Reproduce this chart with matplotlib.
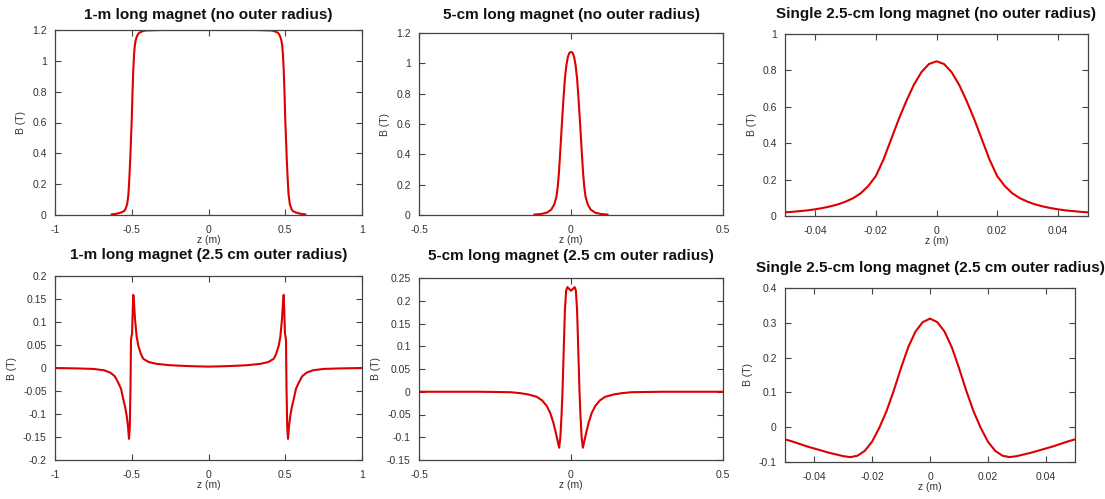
import numpy as np
import matplotlib
matplotlib.use('Agg')
import matplotlib.pyplot as plt
from matplotlib.ticker import FuncFormatter

plt.rcParams['font.family'] = ['Liberation Sans', 'DejaVu Sans']
plt.rcParams['axes.unicode_minus'] = False

# 1-m long magnet, no outer radius
z1 = [-0.63, -0.6, -0.57, -0.55, -0.54, -0.53, -0.522, -0.516, -0.51, -0.505, -0.5, -0.495,
      -0.49, -0.485, -0.48, -0.475, -0.468, -0.46, -0.45, -0.435, -0.41, -0.3, 0.0,
      0.3, 0.41, 0.435, 0.45, 0.46, 0.468, 0.475, 0.48, 0.485, 0.49,
      0.495, 0.5, 0.505, 0.51, 0.516, 0.522, 0.53, 0.54, 0.55, 0.57, 0.6, 0.63]
B1 = [0.004, 0.008, 0.016, 0.025, 0.04, 0.07, 0.13, 0.23, 0.36, 0.49, 0.62, 0.8,
      0.94, 1.04, 1.1, 1.13, 1.155, 1.172, 1.183, 1.19, 1.197, 1.2, 1.2,
      1.2, 1.197, 1.19, 1.183, 1.172, 1.155, 1.13, 1.1, 1.04, 0.94,
      0.8, 0.62, 0.49, 0.36, 0.23, 0.13, 0.07, 0.04, 0.025, 0.016, 0.008, 0.004]

# 5-cm long magnet, no outer radius
z2 = [-0.12, -0.1, -0.08, -0.065, -0.055, -0.048, -0.044, -0.04, -0.035, -0.03, -0.025,
      -0.02, -0.015, -0.01, -0.005, 0.0,
      0.005, 0.01, 0.015, 0.02, 0.025, 0.03, 0.035, 0.04, 0.044, 0.048, 0.055,
      0.065, 0.08, 0.1, 0.12]
B2 = [0.003, 0.006, 0.015, 0.035, 0.07, 0.12, 0.18, 0.27, 0.43, 0.6, 0.76,
      0.9, 0.99, 1.045, 1.07, 1.075,
      1.07, 1.045, 0.99, 0.9, 0.76, 0.6, 0.43, 0.27, 0.18, 0.12, 0.07,
      0.035, 0.015, 0.006, 0.003]

# single 2.5-cm long magnet, no outer radius
z3 = [-0.05, -0.0475, -0.045, -0.0425, -0.04, -0.0375, -0.035, -0.0325, -0.03, -0.0275,
      -0.025, -0.0225, -0.02, -0.0175, -0.015, -0.0125, -0.01, -0.0075, -0.005, -0.0025, 0.0,
      0.0025, 0.005, 0.0075, 0.01, 0.0125, 0.015, 0.0175, 0.02, 0.0225, 0.025,
      0.0275, 0.03, 0.0325, 0.035, 0.0375, 0.04, 0.0425, 0.045, 0.0475, 0.05]
B3 = [0.02, 0.023, 0.027, 0.031, 0.037, 0.044, 0.053, 0.064, 0.079, 0.098,
      0.125, 0.165, 0.22, 0.31, 0.42, 0.53, 0.63, 0.72, 0.79, 0.835, 0.85,
      0.835, 0.79, 0.72, 0.63, 0.53, 0.42, 0.31, 0.22, 0.165, 0.125,
      0.098, 0.079, 0.064, 0.053, 0.044, 0.037, 0.031, 0.027, 0.023, 0.02]

# 1-m long magnet, 2.5 cm outer radius
z4 = [-1.0, -0.85, -0.75, -0.68, -0.64, -0.61, -0.588, -0.57, -0.555, -0.543, -0.533,
      -0.525, -0.518, -0.513, -0.508, -0.505, -0.502, -0.498, -0.494, -0.49, -0.486,
      -0.479, -0.468, -0.457, -0.44, -0.425, -0.39, -0.337, -0.25, -0.12, 0.0,
      0.12, 0.25, 0.337, 0.39, 0.425, 0.44, 0.457, 0.468, 0.479, 0.486, 0.49,
      0.494, 0.498, 0.502, 0.505, 0.508, 0.513, 0.518, 0.525, 0.533, 0.543,
      0.555, 0.57, 0.588, 0.61, 0.64, 0.68, 0.75, 0.85, 1.0]
B4 = [0.0, -0.001, -0.002, -0.005, -0.01, -0.018, -0.032, -0.045, -0.068, -0.085, -0.104,
      -0.125, -0.154, -0.13, -0.04, 0.06, 0.068, 0.075, 0.12, 0.159, 0.145,
      0.107, 0.068, 0.048, 0.03, 0.02, 0.013, 0.009, 0.006, 0.004, 0.003,
      0.004, 0.006, 0.009, 0.013, 0.02, 0.03, 0.048, 0.068, 0.107, 0.145, 0.159,
      0.12, 0.075, 0.068, 0.06, -0.04, -0.13, -0.154, -0.125, -0.104, -0.085,
      -0.068, -0.045, -0.032, -0.018, -0.01, -0.005, -0.002, -0.001, 0.0]

# 5-cm long magnet, 2.5 cm outer radius
z5 = [-0.5, -0.3, -0.2, -0.168, -0.14, -0.113, -0.095, -0.08, -0.068, -0.058, -0.05,
      -0.044, -0.039, -0.035, -0.031, -0.028, -0.024, -0.02, -0.016, -0.012, -0.006, 0.0,
      0.006, 0.012, 0.016, 0.02, 0.024, 0.028, 0.031, 0.035, 0.039, 0.044,
      0.05, 0.058, 0.068, 0.08, 0.095, 0.113, 0.14, 0.168, 0.2, 0.3, 0.5]
B5 = [0.0, 0.0, -0.001, -0.003, -0.006, -0.011, -0.019, -0.031, -0.047, -0.068, -0.09,
      -0.108, -0.123, -0.1, -0.05, 0.0, 0.09, 0.18, 0.222, 0.23, 0.226, 0.222,
      0.226, 0.23, 0.222, 0.18, 0.09, 0.0, -0.05, -0.1, -0.123, -0.108,
      -0.09, -0.068, -0.047, -0.031, -0.019, -0.011, -0.006, -0.003, -0.001, 0.0, 0.0]

# single 2.5-cm long magnet, 2.5 cm outer radius
z6 = [-0.05, -0.0475, -0.045, -0.0425, -0.04, -0.0375, -0.035, -0.0325, -0.03, -0.0275,
      -0.025, -0.0225, -0.02, -0.0175, -0.015, -0.0125, -0.01, -0.0075, -0.005, -0.0025, 0.0,
      0.0025, 0.005, 0.0075, 0.01, 0.0125, 0.015, 0.0175, 0.02, 0.0225, 0.025,
      0.0275, 0.03, 0.0325, 0.035, 0.0375, 0.04, 0.0425, 0.045, 0.0475, 0.05]
B6 = [-0.035, -0.041, -0.048, -0.055, -0.061, -0.067, -0.073, -0.078, -0.083, -0.086,
      -0.082, -0.068, -0.042, -0.002, 0.046, 0.105, 0.17, 0.23, 0.275, 0.302, 0.312,
      0.302, 0.275, 0.23, 0.17, 0.105, 0.046, -0.002, -0.042, -0.068, -0.082,
      -0.086, -0.083, -0.078, -0.073, -0.067, -0.061, -0.055, -0.048, -0.041, -0.035]

titles = ['1-m long magnet (no outer radius)',
          '5-cm long magnet (no outer radius)',
          'Single 2.5-cm long magnet (no outer radius)',
          '1-m long magnet (2.5 cm outer radius)',
          '5-cm long magnet (2.5 cm outer radius)',
          'Single 2.5-cm long magnet (2.5 cm outer radius)']

W, H = 1105, 499
fig = plt.figure(figsize=(W / 100, H / 100), dpi=100)

# pixel boxes: left, right, top, bottom
boxes = [(55, 362, 30, 215), (419, 723, 33, 215), (785, 1088, 34, 216),
         (55, 362, 276, 460), (419, 723, 278, 460), (785, 1075, 288, 462)]
title_y = [15, 15, 14, 255, 256, 268]

panels = [
    (z1, B1, (-1, 1), np.arange(-1, 1.01, 0.5), (0, 1.2), np.arange(0, 1.21, 0.2)),
    (z2, B2, (-0.5, 0.5), [-0.5, 0, 0.5], (0, 1.2), np.arange(0, 1.21, 0.2)),
    (z3, B3, (-0.05, 0.05), [-0.04, -0.02, 0, 0.02, 0.04], (0, 1), np.arange(0, 1.01, 0.2)),
    (z4, B4, (-1, 1), np.arange(-1, 1.01, 0.5), (-0.2, 0.2), np.arange(-0.2, 0.201, 0.05)),
    (z5, B5, (-0.5, 0.5), [-0.5, 0, 0.5], (-0.15, 0.25), np.arange(-0.15, 0.251, 0.05)),
    (z6, B6, (-0.05, 0.05), [-0.04, -0.02, 0, 0.02, 0.04], (-0.1, 0.4), np.arange(-0.1, 0.401, 0.1)),
]

fmt = FuncFormatter(lambda v, p: '%g' % (round(v, 6) + 0.0))

for (z, B, xl, xt, yl, yt), (l, r, t, b), title, ty in zip(panels, boxes, titles, title_y):
    ax = fig.add_axes([l / W, 1 - b / H, (r - l) / W, (b - t) / H])
    ax.plot(z, B, color='#dd0000', lw=1.5)
    ax.set_xlim(*xl)
    ax.set_ylim(*yl)
    ax.set_xticks(xt)
    ax.set_yticks(yt)
    ax.xaxis.set_major_formatter(fmt)
    ax.yaxis.set_major_formatter(fmt)
    ax.tick_params(direction='in', top=True, right=True, length=4, width=0.8,
                   labelsize=7.5, labelcolor='#333333', color='#444444')
    ax.tick_params(axis='x', pad=7)
    ax.tick_params(axis='y', pad=6)
    for s in ax.spines.values():
        s.set_color('#444444')
        s.set_linewidth(0.9)
    ax.set_xlabel('z (m)', fontsize=7.5, color='#333333', labelpad=0)
    ax.set_ylabel('B (T)', fontsize=7.5, color='#333333', labelpad=4)
    fig.text((l + r) / 2 / W, 1 - ty / H, title, ha='center', va='center',
             fontsize=11, fontweight='bold', color='#111111')

plt.savefig('out.png', dpi=100)
plt.close('all')
